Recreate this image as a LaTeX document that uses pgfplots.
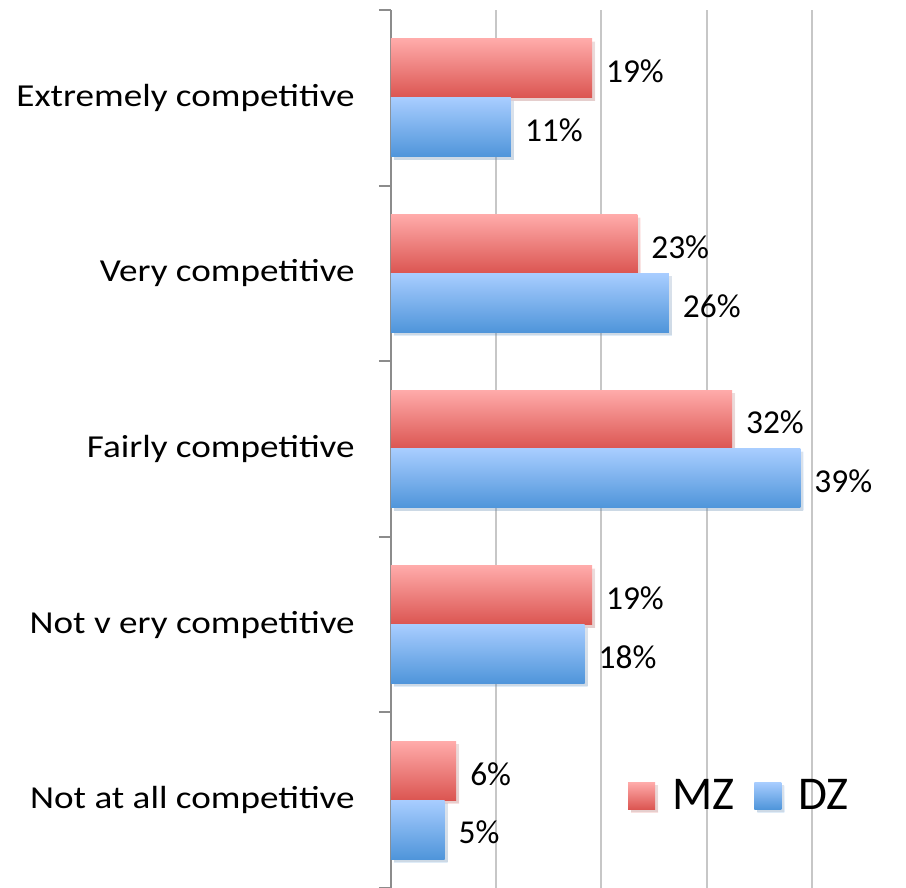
\documentclass[border=0pt]{standalone}
\usepackage{pgfplots}
\pgfplotsset{compat=1.18}
\usepackage{fontspec}
\setmainfont{Carlito}
\newfontfamily\labfont[FakeStretch=1.16]{Carlito}
\usetikzlibrary{shadows}
\definecolor{mzTop}{HTML}{FFABAA}
\definecolor{mzBot}{HTML}{DB5551}
\definecolor{dzTop}{HTML}{A8CDFF}
\definecolor{dzBot}{HTML}{4F95DA}
\pgfplotsset{
 mz/.style={draw=none, top color=mzTop, bottom color=mzBot, bar shift=0.1675,
   drop shadow={shadow xshift=1.5pt, shadow yshift=-1.5pt, opacity=0.18},
   legend image code/.code={\path[top color=mzTop, bottom color=mzBot] (0pt,-6.75pt) rectangle (13.5pt,6.75pt); \path (20pt,0pt);}},
 dz/.style={draw=none, top color=dzTop, bottom color=dzBot, bar shift=-0.1675,
   drop shadow={shadow xshift=1.5pt, shadow yshift=-1.5pt, opacity=0.18},
   legend image code/.code={\path[top color=dzTop, bottom color=dzBot] (0pt,-6.75pt) rectangle (13.5pt,6.75pt); \path (20pt,0pt);}},
}
\begin{document}
\begin{tikzpicture}
\begin{axis}[
 name=ax, at={(0,0)}, anchor=south west,
 scale only axis, width=210.5pt, height=439pt,
 xbar, bar width=0.335,
 xmin=0, xmax=40, ymin=-0.5, ymax=4.5,
 xtick={10,20,30,40}, xticklabels={}, xmajorgrids,
 grid style={color=black!22, line width=1pt},
 major x tick style={draw=none},
 ytick={0,...,4},
 yticklabels={Not at all competitive, Not v ery competitive, Fairly competitive, Very competitive, Extremely competitive},
 minor ytick={-0.5,0.5,...,4.5},
 major y tick style={draw=none}, major tick length=0pt, minor tick length=6pt, tick align=outside,
 minor y tick style={black!45, line width=1pt},
 axis lines*=left, x axis line style={draw=none}, y axis line style={black!45, line width=1pt},
 yticklabel style={font=\labfont\fontsize{16}{19}\selectfont, inner sep=0pt, xshift=-18pt},
 clip=false,
 /pgf/number format/assume math mode=true,
 nodes near coords={\pgfmathprintnumber[fixed,precision=0,assume math mode=true]{\pgfplotspointmeta}\%},
 every node near coord/.append style={font=\fontsize{16.7}{20}\selectfont, black, xshift=3.5pt, yshift=-1.5pt},
 legend style={at={(0.548,0.105)}, anchor=west, draw=none, fill=none, legend columns=2,
   font=\fontsize{23.5}{28}\selectfont, /tikz/every even column/.append style={column sep=8pt}},
]
\addplot[mz] coordinates {(19.1,4)};
\addplot[dz] coordinates {(11.4,4)};
\addplot[mz, forget plot] coordinates {(23.4,3)};
\addplot[dz, forget plot] coordinates {(26.4,3)};
\addplot[mz, forget plot] coordinates {(32.4,2)};
\addplot[dz, forget plot] coordinates {(38.9,2)};
\addplot[mz, forget plot] coordinates {(19.1,1)};
\addplot[dz, forget plot] coordinates {(18.4,1)};
\addplot[mz, forget plot] coordinates {(6.2,0)};
\addplot[dz, forget plot] coordinates {(5.1,0)};
\legend{MZ, DZ}
\end{axis}
\pgfresetboundingbox
\path (-195.5pt,0) rectangle (257.5pt,444pt);
\end{tikzpicture}
\end{document}
